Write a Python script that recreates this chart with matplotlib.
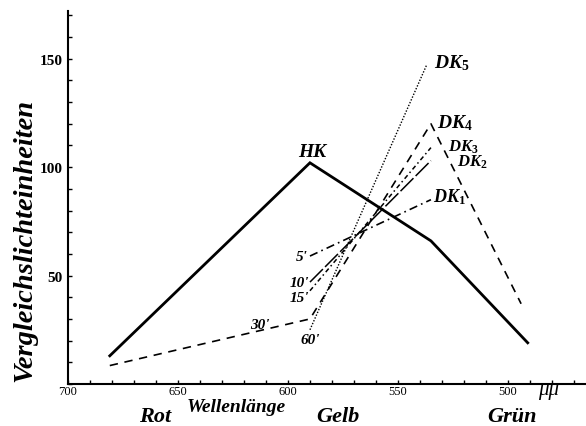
import matplotlib
matplotlib.use("Agg")
import matplotlib.pyplot as plt
from matplotlib.ticker import MultipleLocator, FixedLocator

# ---- data ----
hk_wl = [681, 590, 535, 491]
hk_val = [13, 102, 66, 19]

dk1_wl = [590, 535]
dk1_val = [59, 85]
dk2_wl = [590, 535]
dk2_val = [47, 103]
dk3_wl = [590, 535]
dk3_val = [43, 109]
dk4_wl = [681, 590, 535, 494]
dk4_val = [8.5, 30, 120, 37]
dk5_wl = [590, 537]
dk5_val = [25, 147]

x_ticks = [700, 650, 600, 550, 500]
x_ticklabels = ["700", "650", "600", "550", "500"]
y_ticks = [50, 100, 150]
y_ticklabels = ["50", "100", "150"]

SERIF = "Liberation Serif"
plt.rcParams['font.family'] = [SERIF, 'DejaVu Serif']
plt.rcParams['mathtext.fontset'] = 'custom'
plt.rcParams['mathtext.it'] = 'Liberation Serif:italic:bold'
plt.rcParams['mathtext.rm'] = 'Liberation Serif:bold'

W, H = 586, 427
fig = plt.figure(figsize=(W / 100, H / 100), dpi=100)
ax = fig.add_axes([68 / W, 1 - 385 / H, 1 - 68 / W, (385 - 12) / H])
ax.set_xlim(700, 464.5)
ax.set_ylim(0, 172)

for s in ['top', 'right']:
    ax.spines[s].set_visible(False)
for s in ['left', 'bottom']:
    ax.spines[s].set_linewidth(1.5)

ax.xaxis.set_major_locator(FixedLocator(x_ticks))
ax.set_xticklabels(x_ticklabels)
ax.xaxis.set_minor_locator(MultipleLocator(10))
ax.yaxis.set_major_locator(FixedLocator(y_ticks))
ax.set_yticklabels(y_ticklabels)
ax.yaxis.set_minor_locator(MultipleLocator(10))
ax.tick_params(which='both', direction='in', length=3, width=1, color='black')
ax.tick_params(axis='x', labelsize=9, pad=1)
ax.tick_params(axis='y', labelsize=11, pad=4)
for t in ax.get_yticklabels():
    t.set_fontweight('bold')

k = dict(color='black')
ax.plot(hk_wl, hk_val, lw=2.0, solid_joinstyle='miter', **k)
ax.plot(dk1_wl, dk1_val, lw=1.2, linestyle=(0, (5, 2.5, 1, 2.5)), **k)
ax.plot(dk2_wl, dk2_val, lw=1.1, linestyle=(0, (12, 2)), **k)
ax.plot(dk3_wl, dk3_val, lw=1.1, linestyle=(0, (3, 2, 1, 2)), **k)
ax.plot(dk4_wl, dk4_val, lw=1.2, linestyle=(0, (5, 4)), **k)
ax.plot(dk5_wl, dk5_val, lw=1.0, linestyle=(0, (1, 1.2)), **k)

lab = dict(fontstyle='italic', fontweight='bold', color='black')
ax.text(589, 107, "HK", fontsize=14, ha='center', va='center', **lab)
ax.text(533.6, 148.4, r"$DK_5$", fontsize=14, ha='left', va='center')
ax.text(532.3, 120.7, r"$DK_4$", fontsize=14, ha='left', va='center')
ax.text(527.3, 109.7, r"$DK_3$", fontsize=12, ha='left', va='center')
ax.text(523.2, 102.8, r"$DK_2$", fontsize=12, ha='left', va='center')
ax.text(534.0, 86.6, r"$DK_1$", fontsize=13, ha='left', va='center')

ax.text(591, 59, "5'", fontsize=11, ha='right', va='center', **lab)
ax.text(590.5, 47, "10'", fontsize=11, ha='right', va='center', **lab)
ax.text(590.5, 40, "15'", fontsize=11, ha='right', va='center', **lab)
ax.text(612.7, 27.6, "30'", fontsize=11, ha='center', va='center', **lab)
ax.text(590, 20.3, "60'", fontsize=11, ha='center', va='center', **lab)

def ftxt(x, y, s, **kw):
    fig.text(x / W, 1 - y / H, s, **kw)

ftxt(25, 240, "Vergleichslichteinheiten", fontsize=20.5, rotation=90,
     ha='center', va='center', **lab)
ftxt(236, 408, "Wellenlänge", fontsize=14, ha='center', va='center', **lab)
ftxt(155, 417, "Rot", fontsize=16, ha='center', va='center', **lab)
ftxt(338, 417, "Gelb", fontsize=16, ha='center', va='center', **lab)
ftxt(512, 417, "Grün", fontsize=16, ha='center', va='center', **lab)
ftxt(549, 391, "μμ", fontsize=15, ha='center', va='center',
     fontstyle='italic', color='black')

fig.savefig("out.png", dpi=100)
